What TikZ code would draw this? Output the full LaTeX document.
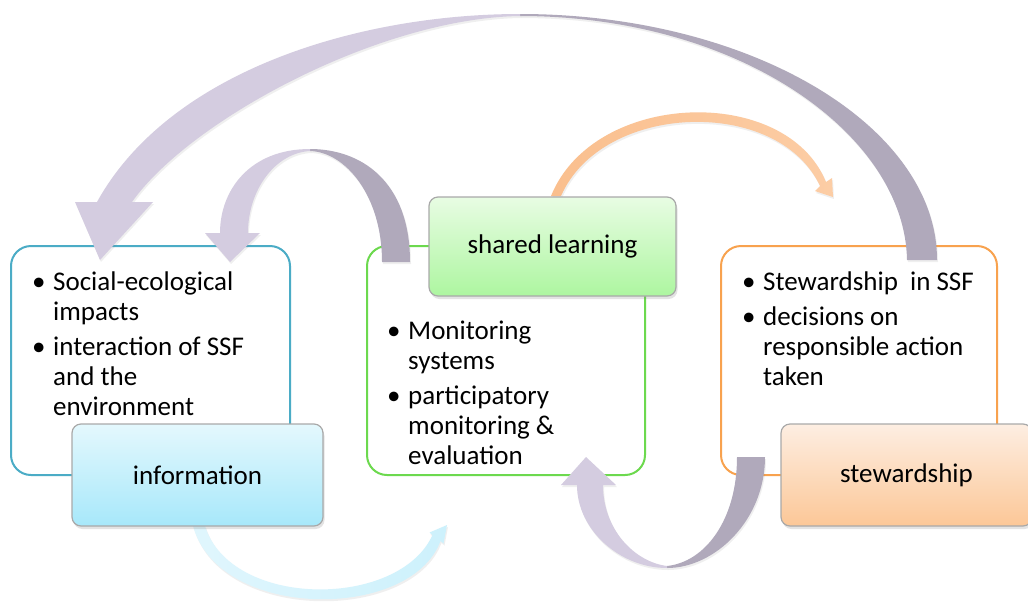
\documentclass[tikz,border=0pt]{standalone}
\usepackage{fontspec}
\setmainfont{Carlito}
\usetikzlibrary{shadows}

\definecolor{infoline}{HTML}{4BACC6}
\definecolor{learnline}{HTML}{6CD94E}
\definecolor{stewline}{HTML}{F8A24E}
\definecolor{infotop}{HTML}{E4F8FD}
\definecolor{infobot}{HTML}{A7E8FA}
\definecolor{learntop}{HTML}{E8FCE3}
\definecolor{learnbot}{HTML}{ADF6A0}
\definecolor{stewtop}{HTML}{FDEEE2}
\definecolor{stewbot}{HTML}{FCC797}
\definecolor{loopdark}{HTML}{B0A9BB}
\definecolor{looplight}{HTML}{D4CCE0}
\definecolor{boxedge}{HTML}{A9A9A9}
\definecolor{peachend}{HTML}{FABF8E}
\definecolor{peachmid}{HTML}{FDF0E6}
\definecolor{peachtip}{HTML}{FCCDA5}
\definecolor{skyend}{HTML}{E0F6FD}
\definecolor{skymid}{HTML}{A8E8FA}
\definecolor{skytip}{HTML}{CDF1FC}

\newcommand\diagfont{\fontsize{27}{30}\selectfont}
\newcommand\bul{\makebox[21pt][l]{•}}
\newcommand\ind{\hspace*{21pt}}

\begin{document}
\begin{tikzpicture}[x=1pt,y=-1pt,
  panel/.style={draw=#1, line width=2pt, rounded corners=20pt, fill=white,
    minimum height=229pt, inner sep=0pt},
  titlebox/.style 2 args={draw=boxedge, line width=1.2pt, rounded corners=9pt,
    top color=#1, bottom color=#2, minimum height=102pt, font=\diagfont,
    drop shadow={shadow xshift=1.5pt, shadow yshift=-3pt, opacity=0.22}},
  listtext/.style={anchor=base west, inner sep=0pt, font=\diagfont},
  bandshadow/.style={drop shadow={shadow xshift=1pt, shadow yshift=-2pt, opacity=0.12}},
  backband/.style={fill=loopdark, bandshadow},
  frontband/.style={fill=looplight, bandshadow},
]
\clip (0,0) rectangle (1028,603);
\fill[white] (0,0) rectangle (1028,603);

% outlined panels holding the bullet lists
\node[panel=infoline,  minimum width=279pt] (infopanel)  at (150.5,360.5) {};
\node[panel=learnline, minimum width=278pt] (learnpanel) at (506,360.5) {};
\node[panel=stewline,  minimum width=276pt] (stewpanel)  at (859,360.5) {};

% long loop: stewardship back to information
\path[backband]
  (520,14) .. controls (749,14) and (937,125) .. (937,260)
  -- (907,260) .. controls (905,135) and (740,16) .. (520,16) -- cycle;
\path[frontband]
  (520,14) .. controls (360,14) and (170,70) .. (97,202)
  -- (75,202) -- (100,260) -- (153,202) -- (132,202)
  .. controls (190,120) and (380,18) .. (520,16) -- cycle;

% short loop: shared learning back to information
\path[backband]
  (310,149) .. controls (360,149) and (410,180) .. (410,262)
  -- (382,262) .. controls (382,195) and (345,152) .. (310,151) -- cycle;
\path[frontband]
  (310,149) .. controls (250,149) and (220,190) .. (220,233)
  -- (205,233) -- (230,262) -- (260,233) -- (248,233)
  .. controls (248,190) and (275,153) .. (310,151) -- cycle;

% lower loop: stewardship back to shared learning
\path[backband]
  (667,568) .. controls (715,568) and (765,520) .. (765,457)
  -- (737,457) .. controls (737,520) and (705,562) .. (667,566) -- cycle;
\path[frontband]
  (667,568) .. controls (620,568) and (577,530) .. (577,485)
  -- (561,485) -- (586,457) -- (616,485) -- (603,485)
  .. controls (603,530) and (635,562) .. (667,566) -- cycle;

% thin arc: shared learning to stewardship
\shade[left color=peachend, middle color=peachmid, right color=peachtip, bandshadow]
  (551,196) .. controls (594,90) and (786,84) .. (826,182)
  -- (832,178) -- (833,197) -- (815,191) -- (820,186)
  .. controls (778,96) and (602,102) .. (561,196) -- cycle;

% thin arc: information to shared learning
\shade[left color=skyend, middle color=skymid, right color=skytip, bandshadow]
  (193,526) .. controls (219,621) and (411,621) .. (440.5,541)
  -- (443.5,543.5) -- (447,525) -- (429.5,532.5) -- (432.5,535)
  .. controls (399,609) and (231,609) .. (205,526) -- cycle;

% title boxes
\node[titlebox={infotop}{infobot},   minimum width=251pt, minimum height=102pt] (info)  at (197.5,475) {information};
\node[titlebox={learntop}{learnbot}, minimum width=247pt, minimum height=99pt]  (learn) at (552.5,246.5) {shared learning};
\node[titlebox={stewtop}{stewbot},   minimum width=251pt, minimum height=102pt] (stew)  at (906.5,475) {stewardship};

% bullet lists
\node[listtext] (infolist) at (32,290) {\begin{tabular}[t]{@{}l@{}}
\bul Social-ecological\\
\ind impacts\\[5pt]
\bul interaction of SSF\\
\ind and the\\
\ind environment
\end{tabular}};

\node[listtext] (learnlist) at (387,339) {\begin{tabular}[t]{@{}l@{}}
\bul Monitoring\\
\ind systems\\[5pt]
\bul participatory\\
\ind monitoring \&\\
\ind evaluation
\end{tabular}};

\node[listtext] (stewlist) at (742,290) {\begin{tabular}[t]{@{}l@{}}
\bul Stewardship\ \ in SSF\\[5pt]
\bul decisions on\\
\ind responsible action\\
\ind taken
\end{tabular}};
\end{tikzpicture}
\end{document}
